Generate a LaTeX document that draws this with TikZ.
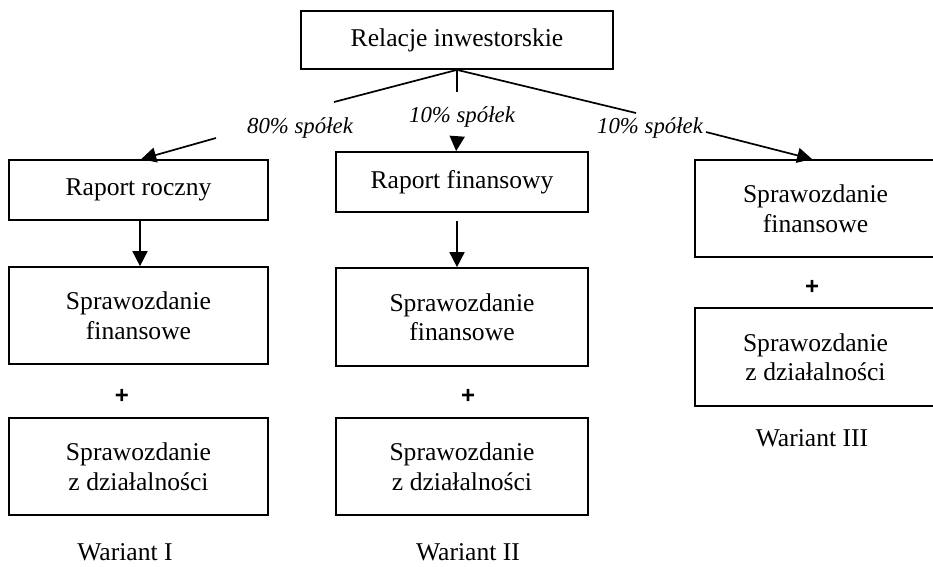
\documentclass[tikz,border=0pt]{standalone}
\usepackage{fontspec}
\setmainfont{Liberation Serif}
\setsansfont{Liberation Sans}
\usetikzlibrary{arrows.meta}
\begin{document}
\begin{tikzpicture}[x=1pt,y=-1pt,
  box/.style={draw, line width=1.7pt, align=center, inner sep=0pt, font=\fontsize{25.6}{29.5}\selectfont},
  lbl/.style={font=\fontsize{22.8}{26}\selectfont\itshape, inner sep=0pt},
  plain/.style={font=\fontsize{25.6}{29.5}\selectfont, inner sep=0pt},
  plussign/.style={font=\fontsize{24}{28}\selectfont\sffamily\bfseries, inner sep=0pt},
  ln/.style={line width=1.7pt},
  arr/.style={line width=1.7pt, -{Triangle[length=15pt,width=15pt]}}]
\useasboundingbox (0,0) rectangle (933,566);

% boxes
\node[box, minimum width=312pt, minimum height=58pt] (rel) at (457,40) {Relacje inwestorskie};
\node[box, minimum width=259pt, minimum height=60pt] (rr) at (138.5,190) {Raport roczny};
\node[box, minimum width=259pt, minimum height=97pt] (sf1) at (138.5,315.5) {Sprawozdanie\\finansowe};
\node[box, minimum width=259pt, minimum height=97pt] (sz1) at (138.5,466.5) {Sprawozdanie\\z działalności};
\node[box, minimum width=252pt, minimum height=60pt] (rf) at (462,182) {Raport finansowy};
\node[box, minimum width=252pt, minimum height=98pt] (sf2) at (462,317) {Sprawozdanie\\finansowe};
\node[box, minimum width=252pt, minimum height=97pt] (sz2) at (462,466.5) {Sprawozdanie\\z działalności};
\node[box, minimum width=241pt, minimum height=97pt] (sf3) at (815.5,208.5) {Sprawozdanie\\finansowe};
\node[box, minimum width=241pt, minimum height=98pt] (sz3) at (815.5,357) {Sprawozdanie\\z działalności};

% plus signs
\node[plussign] (p1) at (122,396) {+};
\node[plussign] (p2) at (468,396) {+};
\node[plussign] (p3) at (812,287) {+};

% variant labels
\node[plain] (w1) at (125,552) {Wariant I};
\node[plain] (w2) at (468,552) {Wariant II};
\node[plain] (w3) at (812,438) {Wariant III};

% percentage labels
\node[lbl] (l80) at (300,128) {80\% spółek};
\node[lbl] (l10m) at (462,117) {10\% spółek};
\node[lbl] (l10r) at (650,128) {10\% spółek};

% connector coordinates
\coordinate (cL) at (334,102);
\coordinate (cM) at (457,92);
\coordinate (cR) at (636,113);
\coordinate (aL) at (216,138);
\coordinate (aM) at (457,139);
\coordinate (aR) at (706,132);

\draw[ln] (rel.south) -- (cL);
\draw[ln] (rel.south) -- (cM);
\draw[ln] (rel.south) -- (cR);

\draw[arr] (aL) -- ([xshift=133pt]rr.north west);
\draw[arr] (aM) -- ([xshift=121pt]rf.north west);
\draw[arr] (aR) -- ([xshift=118pt]sf3.north west);

\draw[arr] ([xshift=1.5pt]rr.south) -- ([xshift=1.5pt]sf1.north);
\draw[arr] ([xshift=-5pt,yshift=-8pt]rf.south) -- ([xshift=-5pt]sf2.north);
\end{tikzpicture}
\end{document}
